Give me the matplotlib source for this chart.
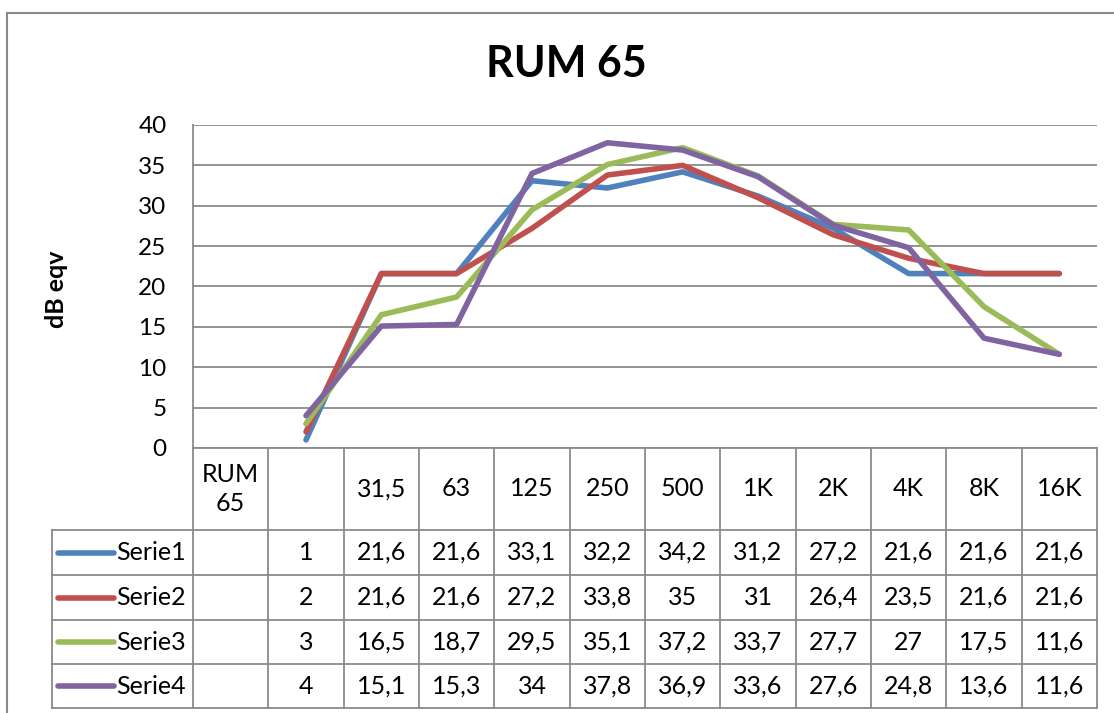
import numpy as np
import matplotlib
matplotlib.use("Agg")
import matplotlib.pyplot as plt
from matplotlib.lines import Line2D

plt.rcParams['font.family'] = ['Lato', 'DejaVu Sans']

categorias = ["RUM\n65", "", "31,5", "63", "125", "250", "500", "1K", "2K", "4K", "8K", "16K"]
series = ["Serie1", "Serie2", "Serie3", "Serie4"]
serie1 = [np.nan, 1, 21.6, 21.6, 33.1, 32.2, 34.2, 31.2, 27.2, 21.6, 21.6, 21.6]
serie2 = [np.nan, 2, 21.6, 21.6, 27.2, 33.8, 35, 31, 26.4, 23.5, 21.6, 21.6]
serie3 = [np.nan, 3, 16.5, 18.7, 29.5, 35.1, 37.2, 33.7, 27.7, 27, 17.5, 11.6]
serie4 = [np.nan, 4, 15.1, 15.3, 34, 37.8, 36.9, 33.6, 27.6, 24.8, 13.6, 11.6]
valores = [serie1, serie2, serie3, serie4]
colores = ["#4F81BD", "#C0504D", "#9BBB59", "#8064A2"]

W, H = 1114, 713
gris = "#8a8a8a"
fs = 18


def fmt(v):
    if np.isnan(v):
        return ""
    return ("%g" % v).replace(".", ",")


fig = plt.figure(figsize=(W / 100, H / 100), dpi=100)

# borde exterior del gráfico
fig.add_artist(Line2D([7 / W, 7 / W], [0, 1 - 13 / H], color=gris, lw=1.5))
fig.add_artist(Line2D([7 / W, 1], [1 - 13 / H, 1 - 13 / H], color=gris, lw=1.5))

# área de trazado
px_l, px_r, px_t, px_b = 193, 1097, 125, 448
ax = fig.add_axes([px_l / W, 1 - px_b / H, (px_r - px_l) / W, (px_b - px_t) / H])
x = np.arange(len(categorias))
for vals, c, nombre in zip(valores, colores, series):
    ax.plot(x, vals, color=c, lw=4, solid_joinstyle="round", solid_capstyle="round",
            label=nombre, zorder=3)
ax.set_xlim(-0.5, len(categorias) - 0.5)
ax.set_ylim(0, 40)
ax.set_yticks(np.arange(0, 41, 5))
ax.set_xticks([])
ax.grid(axis="y", color=gris, lw=1.3)
ax.set_axisbelow(True)
for s in ["top", "right", "bottom"]:
    ax.spines[s].set_visible(False)
ax.spines["left"].set_color(gris)
ax.spines["left"].set_linewidth(1.3)
ax.tick_params(axis="y", length=0, pad=19, labelsize=17.5)

fig.text(57 / W, 1 - 289 / H, "dB eqv", rotation=90, ha="center", va="center",
         fontsize=18, fontweight="bold")
fig.text(566 / W, 1 - 64 / H, "RUM 65", ha="center", va="center",
         fontsize=31, fontweight="bold")

# tabla de datos
colw = (px_r - px_l) / len(categorias)
leg_l = 52
tab = fig.add_axes([leg_l / W, 0, (px_r - leg_l) / W, 1 - px_b / H])
tab.set_xlim(-0.5 - (px_l - leg_l) / colw, len(categorias) - 0.5)
tab.set_ylim(H, px_b)
tab.axis("off")

filas = [px_b, 530, 575, 620, 664, 708]
bordes_x = np.arange(len(categorias) + 1) - 0.5
x_leg = tab.get_xlim()[0]

# líneas horizontales
tab.plot([bordes_x[0], bordes_x[-1]], [filas[0], filas[0]], color=gris, lw=1.3, clip_on=False)
for yy in filas[1:]:
    tab.plot([x_leg, bordes_x[-1]], [yy, yy], color=gris, lw=1.3, clip_on=False)
# líneas verticales
for xx in bordes_x:
    tab.plot([xx, xx], [filas[0], filas[-1]], color=gris, lw=1.3, clip_on=False)
tab.plot([x_leg, x_leg], [filas[1], filas[-1]], color=gris, lw=1.3, clip_on=False)

# encabezados
for i, cat in enumerate(categorias):
    tab.text(i, (filas[0] + filas[1]) / 2, cat, ha="center", va="center",
             fontsize=fs, linespacing=1.35)

# filas de series
for r, (vals, c, nombre) in enumerate(zip(valores, colores, series)):
    yc = (filas[r + 1] + filas[r + 2]) / 2
    tab.plot([x_leg + 6 / colw, x_leg + 62 / colw], [yc, yc], color=c, lw=4,
             solid_capstyle="round", clip_on=False)
    tab.text(x_leg + 64 / colw, yc, nombre, ha="left", va="center", fontsize=fs)
    for i, v in enumerate(vals):
        tab.text(i, yc, fmt(v), ha="center", va="center", fontsize=fs)

fig.savefig("out.png", dpi=100)
